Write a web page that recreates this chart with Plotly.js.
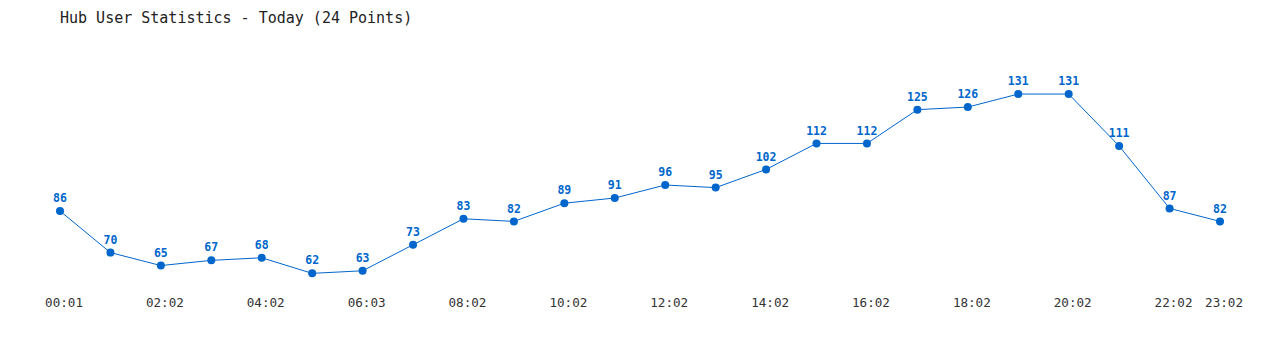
<!DOCTYPE html>
<html>
<head>
<meta charset="utf-8">
<script src="https://cdn.plot.ly/plotly-3.0.1.min.js"></script>
<style>html,body{margin:0;padding:0;background:#fff;}#chart{width:1280px;height:350px;}</style>
</head>
<body>
<div id="chart"></div>
<script>
const times = ["00:01","01:02","02:02","03:02","04:02","05:02","06:03","07:02","08:02","09:02","10:02","11:02","12:02","13:02","14:02","15:02","16:02","17:02","18:02","19:02","20:02","21:02","22:02","23:02"];
const users = [86,70,65,67,68,62,63,73,83,82,89,91,96,95,102,112,112,125,126,131,131,111,87,82];
const shownTicks = ["00:01","02:02","04:02","06:03","08:02","10:02","12:02","14:02","16:02","18:02","20:02","22:02","23:02"];

const blue = "#0066cc";
const mono = "DejaVu Sans Mono, Liberation Mono, monospace";

Plotly.newPlot("chart", [{
  x: times,
  y: users,
  type: "scatter",
  mode: "lines+markers+text",
  line: {color: blue, width: 1},
  marker: {color: blue, size: 8},
  text: users.map(String),
  textposition: "top center",
  textfont: {family: mono, size: 11.5, color: blue, weight: "bold"},
  cliponaxis: false,
  hoverinfo: "x+y"
}], {
  width: 1280,
  height: 350,
  margin: {l: 60, r: 60, t: 40, b: 60},
  paper_bgcolor: "#fff",
  plot_bgcolor: "#fff",
  showlegend: false,
  title: {
    text: "Hub User Statistics - Today (24 Points)",
    font: {family: mono, size: 15, color: "#222"},
    x: 60/1280, xref: "container", xanchor: "left",
    y: 1 - 18/350, yref: "container", yanchor: "middle"
  },
  xaxis: {
    type: "category",
    range: [0, 23],
    tickvals: shownTicks,
    ticktext: shownTicks,
    showgrid: false, zeroline: false, showline: false,
    ticks: "",
    ticklabelshift: 4,
    ticklabelstandoff: 3,
    tickfont: {family: mono, size: 12.6, color: "#333"}
  },
  yaxis: {
    range: [55.6, 151.8],
    visible: false
  }
}, {displayModeBar: false, staticPlot: true});
</script>
</body>
</html>
